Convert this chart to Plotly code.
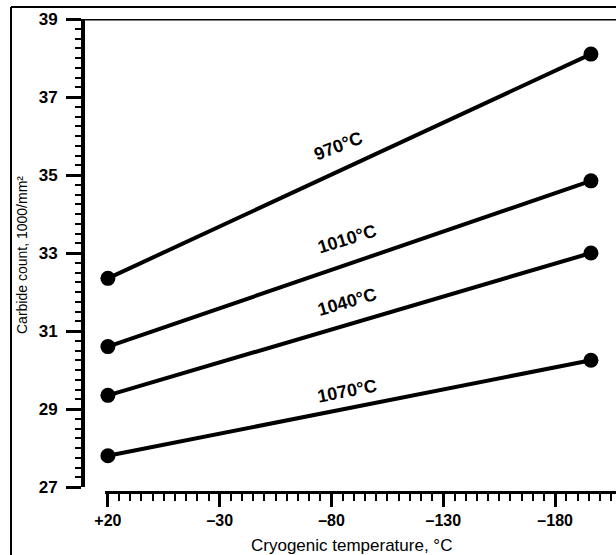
import plotly.graph_objects as go

# ---- data ----
temps = [20, -196]                      # cryogenic temperature, °C
series_names = ["970°C", "1010°C", "1040°C", "1070°C"]
carbide_970 = [32.35, 38.1]
carbide_1010 = [30.6, 34.85]
carbide_1040 = [29.35, 33.0]
carbide_1070 = [27.8, 30.25]
series_values = [carbide_970, carbide_1010, carbide_1040, carbide_1070]

x_tickvals = [20, -30, -80, -130, -180]
x_ticktext = ["+20", "–30", "–80", "–130", "–180"]
y_tickvals = [27, 29, 31, 33, 35, 37, 39]

# label placement (layout only)
label_x = [-83, -87, -87, -87]
label_y = [35.75, 33.35, 31.74, 29.46]
label_angle = [-21, -17, -16, -11]

W, H = 616, 555


def px(x):          # window pixel -> paper x
    return x / W


def py(y):          # window pixel (from top) -> paper y
    return 1 - y / H


FONT = "Liberation Sans, Arial, sans-serif"

fig = go.Figure()
for name, vals in zip(series_names, series_values):
    fig.add_trace(go.Scatter(
        x=temps, y=vals, mode="lines+markers", name=name,
        line=dict(color="black", width=4),
        marker=dict(color="black", size=15),
        cliponaxis=False, showlegend=False,
    ))

for name, lx, ly, ang in zip(series_names, label_x, label_y, label_angle):
    fig.add_annotation(x=lx, y=ly, xref="x", yref="y", text=f"<b>{name}</b>",
                       showarrow=False, textangle=ang,
                       xanchor="center", yanchor="middle",
                       font=dict(family=FONT, size=18, color="black"))

fig.update_layout(
    template="none",
    width=W, height=H, autosize=False,
    margin=dict(l=0, r=0, t=0, b=0, pad=0),
    paper_bgcolor="white", plot_bgcolor="white",
    xaxis=dict(
        automargin=False,
        domain=[px(105), 1], range=[21.3, -207.2],
        anchor="free", position=py(492),
        tickmode="array", tickvals=x_tickvals, ticktext=x_ticktext,
        ticks="outside", ticklen=13, tickwidth=3, tickcolor="black",
        showline=True, linecolor="black", linewidth=3,
        showgrid=False, zeroline=False,
        tickfont=dict(family=FONT, size=16, color="black", weight="bold"),
        ticklabelstandoff=0,
        minor=dict(tickmode="linear", tick0=20, dtick=5, ticks="outside",
                   ticklen=7, tickwidth=2, tickcolor="black", showgrid=False),
    ),
    yaxis=dict(
        automargin=False,
        domain=[py(487), py(19)], range=[27, 39],
        anchor="free", position=px(83),
        tickmode="array", tickvals=y_tickvals,
        ticks="outside", ticklen=15, tickwidth=3, tickcolor="black",
        showline=True, linecolor="black", linewidth=4,
        showgrid=False, zeroline=False,
        tickfont=dict(family=FONT, size=17, color="black", weight="bold"),
        ticklabelstandoff=5,
        minor=dict(tickmode="linear", tick0=27, dtick=0.25, ticks="outside",
                   ticklen=6, tickwidth=2, tickcolor="black", showgrid=False),
    ),
)

# axis titles
fig.add_annotation(x=px(22), y=py(255), xref="paper", yref="paper",
                   text="Carbide count, 1000/mm²", textangle=-90, showarrow=False,
                   xanchor="center", yanchor="middle",
                   font=dict(family=FONT, size=14, color="black"))
fig.add_annotation(x=px(351), y=py(545), xref="paper", yref="paper",
                   text="Cryogenic temperature, °C", showarrow=False,
                   xanchor="center", yanchor="middle",
                   font=dict(family=FONT, size=17, color="black"))

# top line of plot at y=39
fig.add_shape(type="line", xref="paper", yref="y", x0=px(83), x1=1, y0=39, y1=39,
              line=dict(color="black", width=3))
# outer frame (left and top)
fig.add_shape(type="line", xref="paper", yref="paper", x0=px(11), x1=px(11),
              y0=0, y1=py(7), line=dict(color="black", width=2))
fig.add_shape(type="line", xref="paper", yref="paper", x0=px(11), x1=1,
              y0=py(7), y1=py(7), line=dict(color="black", width=2))

fig.write_html("out.html")
